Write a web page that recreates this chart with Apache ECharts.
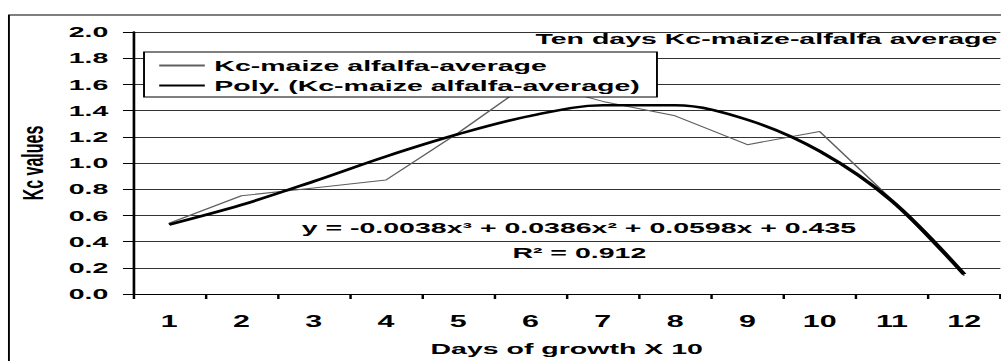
<!DOCTYPE html>
<html>
<head>
<meta charset="utf-8">
<script src="https://cdn.jsdelivr.net/npm/echarts@6/dist/echarts.min.js"></script>
<style>
html,body{margin:0;padding:0;background:#fff;overflow:hidden;width:1001px;height:361px;}
#c{width:527px;height:361px;transform:scaleX(1.9);transform-origin:0 0;}
</style>
</head>
<body>
<div id="c"></div>
<script>
const categories = ['1','2','3','4','5','6','7','8','9','10','11','12'];
const kcValues = [0.54, 0.75, 0.81, 0.87, 1.23, 1.62, 1.47, 1.36, 1.14, 1.24, 0.72, 0.14];
const polyValues = [0.53, 0.68, 0.86, 1.05, 1.22, 1.36, 1.44, 1.44, 1.33, 1.09, 0.71, 0.15];
const seriesNames = ['Kc-maize alfalfa-average', 'Poly. (Kc-maize alfalfa-average)'];
const titleText = 'Ten days Kc-maize-alfalfa average';
const equationText = 'y = -0.0038x\u00B3 + 0.0386x\u00B2 + 0.0598x + 0.435';
const r2Text = 'R\u00B2 = 0.912';
const xName = 'Days of growth X 10';
const yName = 'Kc values';

const FF = '"Liberation Sans", Arial, sans-serif';
const chart = echarts.init(document.getElementById('c'), null, {renderer: 'svg'});
chart.setOption({
  animation: false,
  backgroundColor: '#fff',
  title: {
    text: titleText, right: 2, top: 31, padding: 0,
    textStyle: {fontSize: 15, fontWeight: 'bold', color: '#000', fontFamily: FF}
  },
  legend: {
    orient: 'vertical', left: 75.8, top: 52, padding: [6, 9, 4, 7],
    itemGap: 5, itemWidth: 24, itemHeight: 14,
    backgroundColor: '#fff', borderColor: '#000', borderWidth: 1, borderRadius: 0,
    itemStyle: {opacity: 0, borderWidth: 0},
    textStyle: {fontSize: 15, fontWeight: 'bold', color: '#000', fontFamily: FF},
    data: seriesNames
  },
  grid: {left: 70, right: 0.5, top: 32, bottom: 66, containLabel: false},
  xAxis: {
    type: 'category', data: categories, boundaryGap: true,
    name: xName, nameLocation: 'middle', nameGap: 47,
    nameTextStyle: {fontSize: 15, fontWeight: 'bold', color: '#000', fontFamily: FF},
    axisLine: {lineStyle: {color: '#000', width: 1}},
    axisTick: {show: true, inside: false, length: 5, alignWithLabel: false, lineStyle: {color: '#000', width: 1.3}},
    axisLabel: {margin: 19, fontSize: 16, fontWeight: 'bold', color: '#000', fontFamily: FF},
    splitLine: {show: false}
  },
  yAxis: {
    type: 'value', min: 0, max: 2, interval: 0.2,
    name: yName, nameLocation: 'middle', nameGap: 42, nameRotate: 90,
    nameTextStyle: {fontSize: 16, fontWeight: 'bold', color: '#000', fontFamily: FF},
    axisLine: {show: true, lineStyle: {color: '#000', width: 1.4}},
    axisTick: {show: true, inside: false, length: 5.3, lineStyle: {color: '#000', width: 1}},
    axisLabel: {margin: 13, fontSize: 15, fontWeight: 'bold', color: '#000', fontFamily: FF,
      formatter: v => v.toFixed(1)},
    splitLine: {show: true, lineStyle: {color: '#333', width: 1}}
  },
  graphic: [
    {type: 'rect', silent: true, z: -10, shape: {x: 4.7, y: 15, width: 700, height: 500},
      style: {fill: 'none', stroke: '#000', lineWidth: 1}},
    {type: 'text', x: 304.7, y: 228, z: 10,
      style: {text: equationText, fill: '#000', font: 'bold 15px ' + FF, align: 'center', verticalAlign: 'middle'}},
    {type: 'text', x: 304.9, y: 253, z: 10,
      style: {text: r2Text, fill: '#000', font: 'bold 15px ' + FF, align: 'center', verticalAlign: 'middle'}}
  ],
  series: [
    {name: seriesNames[0], type: 'line', data: kcValues, symbol: 'none', z: 2,
      lineStyle: {color: '#606060', width: 1}, itemStyle: {color: '#606060'}},
    {name: seriesNames[1], type: 'line', data: polyValues, symbol: 'none', smooth: 0.35, z: 3,
      lineStyle: {color: '#000', width: 2.5}, itemStyle: {color: '#000'}}
  ]
});
</script>
</body>
</html>
